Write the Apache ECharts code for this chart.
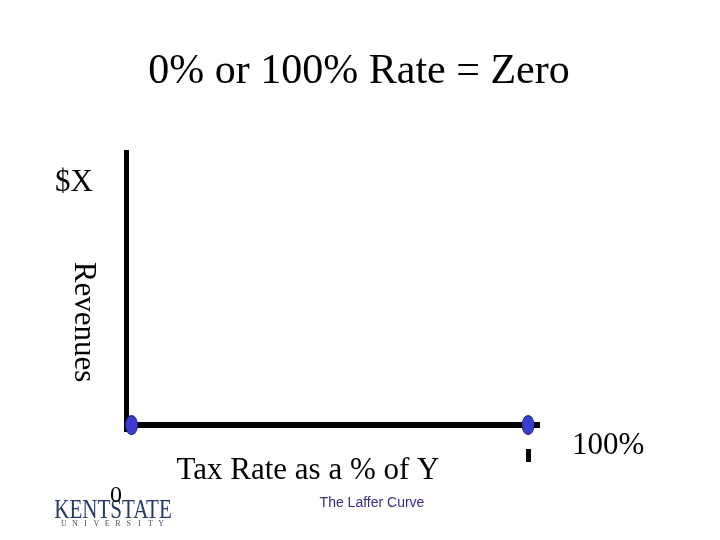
<!DOCTYPE html>
<html>
<head>
<meta charset="utf-8">
<script src="https://cdn.jsdelivr.net/npm/echarts@6/dist/echarts.min.js"></script>
<style>html,body{margin:0;padding:0;background:#fff;}#c{width:720px;height:540px;}</style>
</head>
<body>
<div id="c"></div>
<script>
// Data
var taxRates = [0, 100];        // tax rate (% of Y)
var revenues = [0, 0];          // revenues at those rates
var markedRates = [100];        // tick mark under the axis
var titleText = '0% or 100% Rate = Zero';
var xAxisTitle = 'Tax Rate as a % of Y';
var yAxisTitle = 'Revenues';
var yTopLabel = '$X';
var xStartLabel = '0';
var xEndLabel = '100%';
var footerText = 'The Laffer Curve';

var chart = echarts.init(document.getElementById('c'), null, {renderer: 'canvas'});
var serif = '"Liberation Serif", "Times New Roman", serif';
var navy = '#27386b';

var points = taxRates.map(function (r, i) { return [r, revenues[i]]; });

var uni = 'UNIVERSITY'.split('');
var uniGraphics = uni.map(function (ch, i) {
  return {
    type: 'text', x: 64 + i * 10.8, y: 524,
    style: {text: ch, font: '8px ' + serif, fill: '#4a5275', textAlign: 'center', textVerticalAlign: 'middle'}
  };
});

chart.setOption({
  backgroundColor: '#ffffff',
  animation: false,
  grid: {left: 126, right: 180, top: 150, bottom: 108, containLabel: false},
  xAxis: [{
    type: 'value', min: -1.4, max: 103,
    axisLine: {show: true, onZero: true, lineStyle: {color: '#000', width: 6, cap: 'butt'}},
    axisTick: {show: false}, axisLabel: {show: false}, splitLine: {show: false}
  }, {
    type: 'value', min: -1.4, max: 103, position: 'bottom', offset: 17,
    axisLine: {show: false},
    axisTick: {show: true, customValues: markedRates, length: 13, inside: false,
      lineStyle: {color: '#000', width: 5, cap: 'butt'}},
    axisLabel: {show: false}, splitLine: {show: false}
  }],
  yAxis: {
    type: 'value', min: -2.5, max: 100,
    axisLine: {show: true, onZero: false, lineStyle: {color: '#000', width: 5, cap: 'butt'}},
    axisTick: {show: false}, axisLabel: {show: false}, splitLine: {show: false}
  },
  series: [{
    type: 'scatter',
    data: points,
    symbol: 'circle',
    symbolSize: [12, 19],
    itemStyle: {color: '#3b3bd0', borderColor: '#25258a', borderWidth: 1, opacity: 1},
    z: 5
  }],
  graphic: [
    {type: 'text', x: 359, y: 72, style: {text: titleText, font: '42px ' + serif, fill: '#000', textAlign: 'center', textVerticalAlign: 'middle'}},
    {type: 'text', x: 55, y: 183, style: {text: yTopLabel, font: '31px ' + serif, fill: '#000', textAlign: 'left', textVerticalAlign: 'middle'}},
    {type: 'text', x: 83, y: 322, rotation: -Math.PI / 2, style: {text: yAxisTitle, font: '31px ' + serif, fill: '#000', textAlign: 'center', textVerticalAlign: 'middle'}},
    {type: 'text', x: 308, y: 471, style: {text: xAxisTitle, font: '31px ' + serif, fill: '#000', textAlign: 'center', textVerticalAlign: 'middle'}},
    {type: 'text', x: 572, y: 446, style: {text: xEndLabel, font: '31px ' + serif, fill: '#000', textAlign: 'left', textVerticalAlign: 'middle'}},
    {type: 'text', x: 113, y: 511, scaleX: 0.78, z: 1, style: {text: 'KENTSTATE', font: '27px ' + serif, fill: navy, textAlign: 'center', textVerticalAlign: 'middle'}},
    {type: 'text', x: 116, y: 496, z: 2, style: {text: xStartLabel, font: '24px ' + serif, fill: '#000', textAlign: 'center', textVerticalAlign: 'middle'}},
    {type: 'text', x: 372, y: 503, style: {text: footerText, font: '14px "Liberation Sans", Arial, sans-serif', fill: '#2e2e8c', textAlign: 'center', textVerticalAlign: 'middle'}}
  ].concat(uniGraphics)
});
</script>
</body>
</html>
